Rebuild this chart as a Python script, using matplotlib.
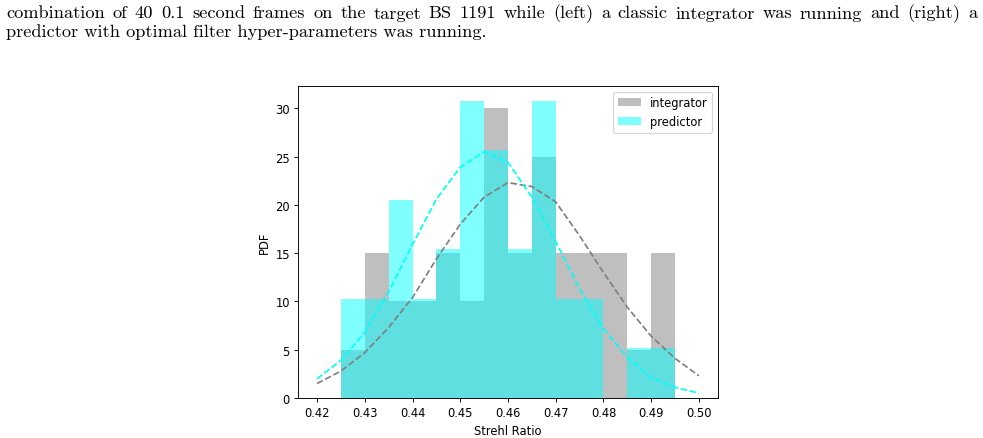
"""Histogram of Strehl ratios: classic integrator vs predictor."""

import matplotlib.pyplot as plt

# Histogram bins (left edges, width 0.005) and density values
bin_left = [0.425, 0.430, 0.435, 0.440, 0.445, 0.450, 0.455,
            0.460, 0.465, 0.470, 0.475, 0.480, 0.485, 0.490]
bin_width = 0.005
integrator_pdf = [5, 15, 10, 10, 15, 10, 30, 15, 25, 15, 15, 15, 5, 15]
predictor_pdf = [10.26, 10.26, 20.51, 10.26, 15.38, 30.77, 25.64,
                 15.38, 30.77, 10.26, 10.26, 0, 5.13, 5.13]

# Fitted normal curves (dashed)
curve_x = [0.420, 0.425, 0.430, 0.435, 0.440, 0.445, 0.450, 0.455, 0.460,
           0.465, 0.470, 0.475, 0.480, 0.485, 0.490, 0.495, 0.500]
integrator_fit = [1.5, 2.8, 4.7, 7.3, 10.4, 14.4, 18.0, 20.8, 22.3,
                  21.9, 20.3, 16.8, 13.0, 9.4, 6.4, 4.1, 2.3]
predictor_fit = [2.0, 3.9, 6.8, 11.0, 15.9, 20.6, 23.9, 25.5, 24.4,
                 20.8, 16.2, 11.3, 7.2, 4.2, 2.1, 1.1, 0.5]

caption_line1 = ("combination of 40 0.1 second frames on the target BS 1191 while "
                 "(left) a classic integrator was running and (right) a")
caption_line2 = "predictor with optimal filter hyper-parameters was running."

# The chart is embedded at a reduced scale, so shrink fonts and line widths
s = 0.83
plt.rcParams.update({
    'font.size': 10 * s,
    'lines.linewidth': 1.5 * s,
    'axes.linewidth': 0.8 * s,
    'xtick.major.size': 3.5 * s,
    'ytick.major.size': 3.5 * s,
    'xtick.major.width': 0.8 * s,
    'ytick.major.width': 0.8 * s,
    'xtick.major.pad': 3.5 * s,
    'ytick.major.pad': 3.5 * s,
    'axes.labelpad': 4 * s,
    'patch.linewidth': 1 * s,
})

W, H = 983, 439
fig = plt.figure(figsize=(W / 100, H / 100), dpi=100)
ax = fig.add_axes([298 / W, 40 / H, 420 / W, 312 / H])

ax.bar(bin_left, integrator_pdf, width=bin_width, align='edge',
       color='gray', alpha=0.5, label='integrator')
ax.bar(bin_left, predictor_pdf, width=bin_width, align='edge',
       color='cyan', alpha=0.5, label='predictor')
ax.plot(curve_x, integrator_fit, '--', color='gray')
ax.plot(curve_x, predictor_fit, '--', color='cyan')

ax.set_xticks([0.42, 0.43, 0.44, 0.45, 0.46, 0.47, 0.48, 0.49, 0.50])
ax.set_xlabel('Strehl Ratio')
ax.set_ylabel('PDF')
ax.legend(loc='upper right')

# Caption above the figure, first line justified to the full width
cap_font = dict(fontfamily='cmr10', fontsize=13.2, va='baseline')
renderer = fig.canvas.get_renderer()
words = caption_line1.split()
word_texts = [fig.text(0, 1 - 18.5 / H, w, **cap_font) for w in words]
widths = [t.get_window_extent(renderer).width for t in word_texts]
x_left, x_right = 6, 977
gap = (x_right - x_left - sum(widths)) / (len(words) - 1)
x = x_left
for t, w in zip(word_texts, widths):
    t.set_x(x / W)
    x += w + gap
fig.text(6.5 / W, 1 - 36.5 / H, caption_line2, **cap_font)

plt.savefig('out.png', dpi=100)
plt.close()
